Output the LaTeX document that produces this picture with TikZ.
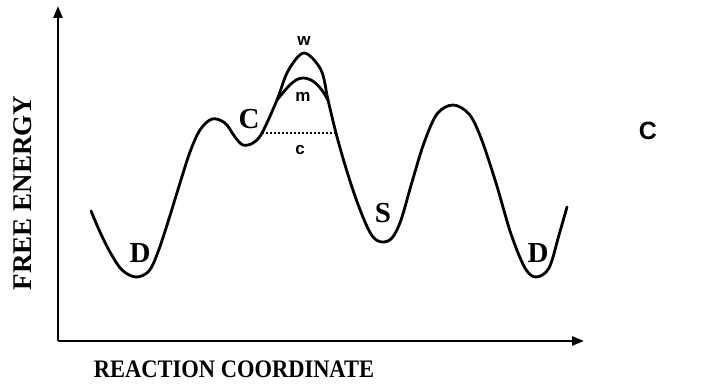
\documentclass[tikz,border=0pt]{standalone}
\usepackage{fontspec}
\setmainfont{Liberation Serif}
\newfontfamily\lsans{Liberation Sans}
\usetikzlibrary{arrows.meta}
\tikzset{
  curve/.style={line width=2.8pt, line join=round, line cap=round},
  axis/.style={line width=2.4pt, -{Triangle[length=12pt,width=9pt]}},
  biglab/.style={inner sep=0pt, font=\bfseries\fontsize{29}{34}\selectfont},
  smalllab/.style={inner sep=0pt, font=\lsans\bfseries\fontsize{17}{20}\selectfont},
  axlab/.style={inner sep=0pt, font=\bfseries\fontsize{22.5}{26}\selectfont}
}
\begin{document}
\begin{tikzpicture}[x=1pt,y=-1pt]
\useasboundingbox (0,0) rectangle (705,387);
\coordinate (o) at (58,341);
\coordinate (ytop) at (58,6);
\coordinate (xend) at (584,341);
\draw[axis] (o) -- (ytop);
\draw[axis] (o) -- (xend);
% main free energy curve
\draw[curve] plot[smooth, tension=0.55] coordinates {
 (91,211) (100,232) (110,252) (122,270) (136,277) (149,271) (158,252)
 (168,222) (180,183) (190,152) (200,130) (212,119) (225,123) (235,137)
 (243,145) (253,143) (262,133) (277,100) (288,71) (304,53) (321,70)
 (328,100) (336,133) (345,165) (355,196) (365,222) (373,237) (382,242)
 (392,238) (401,220) (412,182) (424,143) (437,114) (453,105) (469,114)
 (481,138) (496,183) (511,234) (525,268) (536,277) (549,268) (559,235) (567,207)};
% m curve
\draw[curve] (277,100) .. controls (287,88) and (294,78) .. (303,78)
  .. controls (313,78) and (321,87) .. (328,100);
% c dotted level
\coordinate (cl) at (262,133);
\coordinate (cr) at (336,133);
\draw[line width=2pt, dotted] (cl) -- (cr);
% labels
\node[biglab] (lD1) at (140,253) {D};
\node[biglab] (lC) at (249,119) {C};
\node[biglab] (lS) at (383,213) {S};
\node[biglab] (lD2) at (538,253) {D};
\node[smalllab] (lw) at (304,41) {w};
\node[smalllab] (lm) at (303,97) {m};
\node[smalllab] (lc) at (300,150) {c};
\node[inner sep=0pt, font=\lsans\bfseries\fontsize{25}{28}\selectfont] (panel) at (648,131) {C};
\node[inner sep=0pt, font=\bfseries\fontsize{27}{30}\selectfont, rotate=90] (ylab) at (23,193) {FREE ENERGY};
\node[axlab, yscale=1.12] (xlab) at (234,369) {REACTION COORDINATE};
\end{tikzpicture}
\end{document}
